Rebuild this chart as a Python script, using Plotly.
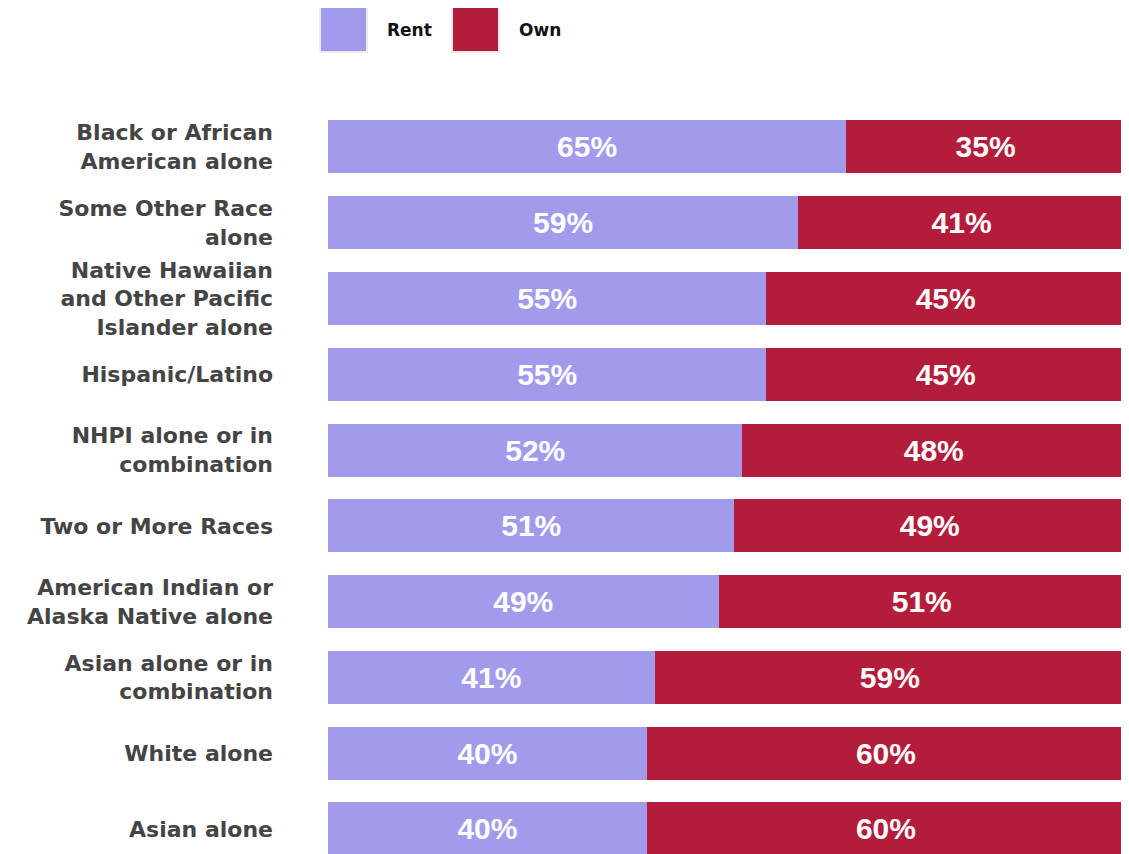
import plotly.graph_objects as go

categories = [
    "Black or African<br>American alone",
    "Some Other Race<br>alone",
    "Native Hawaiian<br>and Other Pacific<br>Islander alone",
    "Hispanic/Latino",
    "NHPI alone or in<br>combination",
    "Two or More Races",
    "American Indian or<br>Alaska Native alone",
    "Asian alone or in<br>combination",
    "White alone",
    "Asian alone",
]
rent = [65, 59, 55, 55, 52, 51, 49, 41, 40, 40]
own = [35, 41, 45, 45, 48, 49, 51, 59, 60, 60]
series_names = ["Rent", "Own"]
colors = ["#A29BEC", "#B31D3B"]

OFF = 8  # page body margin
W, H = 1121, 846
ml, mr, mt, mb = 320, 4, 109 - OFF, 0
pw, ph = W - ml - mr, H - mt - mb

fig = go.Figure()
for name, vals, col in zip(series_names, [rent, own], colors):
    fig.add_trace(go.Bar(
        y=categories, x=vals, name=name, orientation="h",
        marker=dict(color=col, line=dict(width=0)),
        text=[f"{v}%" for v in vals], textposition="inside",
        insidetextanchor="middle",
        textfont=dict(family="Liberation Sans, Arial", size=30, color="white", weight="bold"),
        showlegend=False, width=0.7,
    ))

def px2paper_x(p):
    return (p - OFF - ml) / pw

def px2paper_y(p):
    return (H - mb - (p - OFF)) / ph

shapes = []
annotations = []
legend_boxes = [(320, 367, 385), (452, 499, 517)]
for (x0, x1, tx), name, col in zip(legend_boxes, series_names, colors):
    shapes.append(dict(type="rect", xref="paper", yref="paper",
                       x0=px2paper_x(x0), x1=px2paper_x(x1),
                       y0=px2paper_y(52), y1=px2paper_y(6),
                       fillcolor=col, line=dict(color="#ececec", width=2)))
    annotations.append(dict(text=f"<b>{name}</b>", xref="paper", yref="paper",
                            x=px2paper_x(tx), y=px2paper_y(30), xanchor="left", yanchor="middle",
                            showarrow=False, font=dict(family="DejaVu Sans", size=17, color="#111111")))

fig.update_layout(
    width=W, height=H, barmode="stack", bargap=0.3,
    margin=dict(l=ml, r=mr, t=mt, b=mb, pad=0),
    plot_bgcolor="white", paper_bgcolor="white",
    xaxis=dict(range=[0, 100], visible=False, fixedrange=True),
    yaxis=dict(autorange=False, range=[len(categories) - 1 + 0.33, -0.5],
               showgrid=False, zeroline=False, showline=False,
               ticks="", ticklabelstandoff=54,
               tickfont=dict(family="DejaVu Sans", size=22, color="#444444", weight="bold")),
    shapes=shapes, annotations=annotations,
)
fig.write_html("out.html")
